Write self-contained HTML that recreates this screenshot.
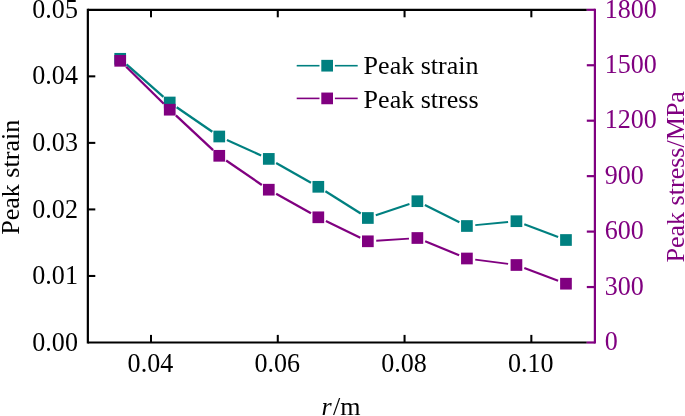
<!DOCTYPE html>
<html><head><meta charset="utf-8"><title>chart</title>
<style>html,body{margin:0;padding:0;background:#fff;}svg{display:block;will-change:transform;}text{font-family:"Liberation Serif",serif;font-size:26.05px;}</style>
</head><body>
<svg width="685" height="416" viewBox="0 0 685 416">
<rect x="0" y="0" width="685" height="416" fill="#ffffff"/>
<line x1="126.50" y1="64.36" x2="163.43" y2="96.94" stroke="#008080" stroke-width="2.30"/>
<line x1="176.66" y1="107.25" x2="212.33" y2="131.75" stroke="#008080" stroke-width="2.30"/>
<line x1="226.91" y1="139.96" x2="261.14" y2="155.44" stroke="#008080" stroke-width="2.19"/>
<line x1="276.11" y1="163.02" x2="311.00" y2="182.68" stroke="#008080" stroke-width="2.29"/>
<line x1="325.43" y1="191.28" x2="360.74" y2="213.52" stroke="#008080" stroke-width="2.30"/>
<line x1="375.80" y1="215.30" x2="409.43" y2="203.90" stroke="#008080" stroke-width="2.07"/>
<line x1="424.89" y1="204.96" x2="459.40" y2="222.24" stroke="#008080" stroke-width="2.23"/>
<line x1="475.27" y1="225.19" x2="508.08" y2="222.01" stroke="#008080" stroke-width="1.81"/>
<line x1="524.29" y1="224.18" x2="558.12" y2="237.02" stroke="#008080" stroke-width="2.12"/>
<rect x="114.35" y="52.95" width="11.70" height="11.70" fill="#008080"/>
<rect x="163.88" y="96.65" width="11.70" height="11.70" fill="#008080"/>
<rect x="213.41" y="130.65" width="11.70" height="11.70" fill="#008080"/>
<rect x="262.94" y="153.05" width="11.70" height="11.70" fill="#008080"/>
<rect x="312.47" y="180.95" width="11.70" height="11.70" fill="#008080"/>
<rect x="362.00" y="212.15" width="11.70" height="11.70" fill="#008080"/>
<rect x="411.53" y="195.35" width="11.70" height="11.70" fill="#008080"/>
<rect x="461.06" y="220.15" width="11.70" height="11.70" fill="#008080"/>
<rect x="510.59" y="215.35" width="11.70" height="11.70" fill="#008080"/>
<rect x="560.12" y="234.15" width="11.70" height="11.70" fill="#008080"/>
<line x1="126.18" y1="66.70" x2="163.75" y2="103.80" stroke="#800080" stroke-width="2.30"/>
<line x1="175.88" y1="115.42" x2="213.11" y2="150.08" stroke="#800080" stroke-width="2.30"/>
<line x1="226.19" y1="160.54" x2="261.86" y2="184.96" stroke="#800080" stroke-width="2.30"/>
<line x1="276.13" y1="193.79" x2="310.98" y2="213.21" stroke="#800080" stroke-width="2.28"/>
<line x1="325.88" y1="220.96" x2="360.29" y2="237.64" stroke="#800080" stroke-width="2.22"/>
<line x1="376.23" y1="240.74" x2="409.00" y2="238.56" stroke="#800080" stroke-width="1.78"/>
<line x1="425.14" y1="241.21" x2="459.15" y2="255.29" stroke="#800080" stroke-width="2.15"/>
<line x1="475.24" y1="259.59" x2="508.11" y2="263.91" stroke="#800080" stroke-width="1.85"/>
<line x1="524.30" y1="267.97" x2="558.11" y2="280.73" stroke="#800080" stroke-width="2.11"/>
<rect x="114.35" y="54.95" width="11.70" height="11.70" fill="#800080"/>
<rect x="163.88" y="103.85" width="11.70" height="11.70" fill="#800080"/>
<rect x="213.41" y="149.95" width="11.70" height="11.70" fill="#800080"/>
<rect x="262.94" y="183.85" width="11.70" height="11.70" fill="#800080"/>
<rect x="312.47" y="211.45" width="11.70" height="11.70" fill="#800080"/>
<rect x="362.00" y="235.45" width="11.70" height="11.70" fill="#800080"/>
<rect x="411.53" y="232.15" width="11.70" height="11.70" fill="#800080"/>
<rect x="461.06" y="252.65" width="11.70" height="11.70" fill="#800080"/>
<rect x="510.59" y="259.15" width="11.70" height="11.70" fill="#800080"/>
<rect x="560.12" y="277.85" width="11.70" height="11.70" fill="#800080"/>
<g stroke="#000" stroke-width="2.20" fill="none" stroke-linecap="butt">
<line x1="87.85" y1="8.70" x2="87.85" y2="343.60"/>
<line x1="87.85" y1="9.80" x2="586.80" y2="9.80"/>
<line x1="87.85" y1="342.50" x2="586.80" y2="342.50"/>
</g>
<g stroke="#000" stroke-width="2.05" fill="none" stroke-linecap="butt">
<line x1="151.00" y1="342.50" x2="151.00" y2="334.90"/>
<line x1="151.00" y1="9.80" x2="151.00" y2="17.30"/>
<line x1="277.78" y1="342.50" x2="277.78" y2="334.90"/>
<line x1="277.78" y1="9.80" x2="277.78" y2="17.30"/>
<line x1="404.56" y1="342.50" x2="404.56" y2="334.90"/>
<line x1="404.56" y1="9.80" x2="404.56" y2="17.30"/>
<line x1="531.34" y1="342.50" x2="531.34" y2="334.90"/>
<line x1="531.34" y1="9.80" x2="531.34" y2="17.30"/>
<line x1="87.85" y1="275.96" x2="95.30" y2="275.96"/>
<line x1="87.85" y1="209.42" x2="95.30" y2="209.42"/>
<line x1="87.85" y1="142.88" x2="95.30" y2="142.88"/>
<line x1="87.85" y1="76.34" x2="95.30" y2="76.34"/>
</g>
<g stroke="#800080" stroke-width="2.20" fill="none">
<line x1="594.90" y1="8.70" x2="594.90" y2="343.60"/>
<line x1="594.90" y1="342.50" x2="586.80" y2="342.50"/>
<line x1="594.90" y1="287.05" x2="586.80" y2="287.05"/>
<line x1="594.90" y1="231.60" x2="586.80" y2="231.60"/>
<line x1="594.90" y1="176.15" x2="586.80" y2="176.15"/>
<line x1="594.90" y1="120.70" x2="586.80" y2="120.70"/>
<line x1="594.90" y1="65.25" x2="586.80" y2="65.25"/>
<line x1="594.90" y1="9.80" x2="586.80" y2="9.80"/>
</g>
<text transform="translate(77.90,350.65) scale(1,1.064)" font-size="25.80" text-anchor="end" fill="#000">0.00</text>
<text transform="translate(77.90,284.11) scale(1,1.064)" font-size="25.80" text-anchor="end" fill="#000">0.01</text>
<text transform="translate(77.90,217.57) scale(1,1.064)" font-size="25.80" text-anchor="end" fill="#000">0.02</text>
<text transform="translate(77.90,151.03) scale(1,1.064)" font-size="25.80" text-anchor="end" fill="#000">0.03</text>
<text transform="translate(77.90,84.49) scale(1,1.064)" font-size="25.80" text-anchor="end" fill="#000">0.04</text>
<text transform="translate(77.90,17.95) scale(1,1.064)" font-size="25.80" text-anchor="end" fill="#000">0.05</text>
<text transform="translate(150.40,371.75) scale(1,1.064)" font-size="25.80" text-anchor="middle" fill="#000">0.04</text>
<text transform="translate(277.18,371.75) scale(1,1.064)" font-size="25.80" text-anchor="middle" fill="#000">0.06</text>
<text transform="translate(403.96,371.75) scale(1,1.064)" font-size="25.80" text-anchor="middle" fill="#000">0.08</text>
<text transform="translate(530.74,371.75) scale(1,1.064)" font-size="25.80" text-anchor="middle" fill="#000">0.10</text>
<text transform="translate(604.70,350.20) scale(1,1.064)" font-size="25.80" text-anchor="start" fill="#800080">0</text>
<text transform="translate(604.70,294.75) scale(1,1.064)" font-size="25.80" text-anchor="start" fill="#800080">300</text>
<text transform="translate(604.70,239.30) scale(1,1.064)" font-size="25.80" text-anchor="start" fill="#800080">600</text>
<text transform="translate(604.70,183.85) scale(1,1.064)" font-size="25.80" text-anchor="start" fill="#800080">900</text>
<text transform="translate(604.70,128.40) scale(1,1.064)" font-size="25.80" text-anchor="start" fill="#800080">1200</text>
<text transform="translate(604.70,72.95) scale(1,1.064)" font-size="25.80" text-anchor="start" fill="#800080">1500</text>
<text transform="translate(604.70,17.50) scale(1,1.064)" font-size="25.80" text-anchor="start" fill="#800080">1800</text>
<text transform="translate(19.4,177.3) rotate(-90)" text-anchor="middle" fill="#000">Peak strain</text>
<text transform="translate(684.2,176.8) rotate(-90)" font-size="26.25" text-anchor="middle" fill="#800080">Peak stress/MPa</text>
<text x="321.6" y="415.4" fill="#000" font-style="italic">r</text>
<text x="333.0" y="415.4" fill="#000">/m</text>
<line x1="296.7" y1="65.70" x2="319.5" y2="65.70" stroke="#008080" stroke-width="1.6"/>
<line x1="334.9" y1="65.70" x2="357.7" y2="65.70" stroke="#008080" stroke-width="1.6"/>
<rect x="321.30" y="59.85" width="11.70" height="11.70" fill="#008080"/>
<text x="363.6" y="74.30" font-size="26.3" fill="#000">Peak strain</text>
<line x1="296.7" y1="98.40" x2="319.5" y2="98.40" stroke="#800080" stroke-width="1.6"/>
<line x1="334.9" y1="98.40" x2="357.7" y2="98.40" stroke="#800080" stroke-width="1.6"/>
<rect x="321.30" y="92.55" width="11.70" height="11.70" fill="#800080"/>
<text x="363.6" y="107.70" font-size="26.3" fill="#000">Peak stress</text>
</svg>
</body></html>
